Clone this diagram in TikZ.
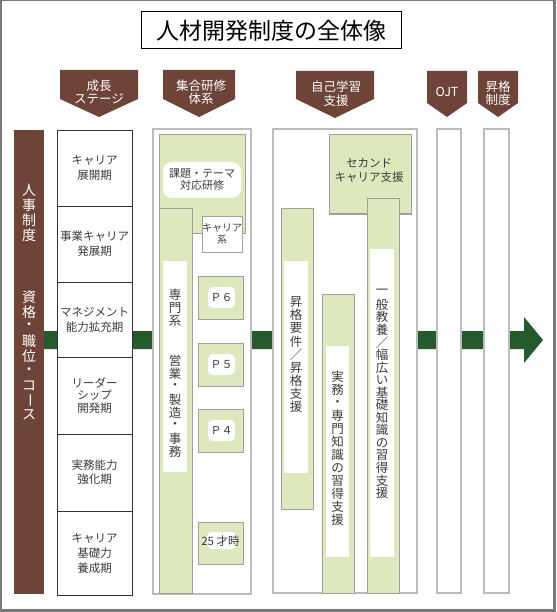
\documentclass[tikz,border=0pt]{standalone}
\usepackage{fontspec}
\setmainfont{Noto Sans CJK JP}
\usepackage{graphicx}
\definecolor{brn}{RGB}{110,68,56}
\definecolor{dgreen}{RGB}{37,90,45}
\definecolor{lgreen}{RGB}{221,233,189}
\definecolor{colgray}{RGB}{188,188,188}
\definecolor{boxgray}{RGB}{160,160,160}
\definecolor{txt}{RGB}{60,60,60}
\definecolor{framegray}{RGB}{120,120,120}
\newcommand\fsz[2]{\fontsize{#1}{#2}\selectfont}
\newdimen\vtp
\let\vtend\relax
\newcommand\vtgap{}
\newcommand\vtbar{\rotatebox[origin=c]{-90}{ー}}
\newcommand\vtxt[2]{\vbox{\offinterlineskip\vtp=#1\relax\vtloop#2\vtend}}
\def\vtloop#1{\ifx#1\vtend\else\vbox to\vtp{\vss\hbox to 1.2em{\hss#1\hss}\vss}\expandafter\vtloop\fi}
\begin{document}
\begin{tikzpicture}[x=1pt,y=-1pt,
 box/.style={anchor=north west, inner sep=0pt, outer sep=0pt},
 stagebox/.style={box, draw=black!80, line width=0.8pt, fill=white, minimum width=75pt, align=center, text=txt, font=\fsz{11.5}{15}},
 column/.style={box, draw=colgray, line width=1.3pt, fill=white},
 gbox/.style={box, draw=boxgray, line width=1pt, fill=lgreen},
 wlabel/.style={box, fill=white},
 headtext/.style={text=white, align=center, inner sep=0pt, font=\fsz{12.5}{13.5}},
 vlab/.style={text=txt, inner sep=0pt, font=\fsz{12.5}{13}},
 plab/.style={wlabel, rounded corners=5pt, minimum width=27pt, minimum height=21pt, text=txt, font=\fsz{11}{11}},
 bartext/.style={text=white, inner sep=0pt, font=\fsz{14}{14}},
]
\useasboundingbox (0,0) rectangle (556,612);
\fill[white] (0,0) rectangle (556,612);
\draw[framegray, line width=1.5pt] (0.75,0.75) rectangle (554,610);
\fill[framegray] (553,0) rectangle (556,612);
\fill[framegray] (0,609) rectangle (556,612);

% title
\node[box, draw=black, line width=1pt, fill=white, minimum width=260pt, minimum height=37pt, font=\fsz{23}{23}] (title) at (141,12) {人材開発制度の全体像};

% header pentagons
\fill[brn] (60,70) -- (138,70) -- (138,99) -- (99,117) -- (60,99) -- cycle;
\node[headtext] (h1) at (99,92) {成長\\ステージ};
\fill[brn] (163,70) -- (235,70) -- (235,99) -- (199,117) -- (163,99) -- cycle;
\node[headtext] (h2) at (201,92) {集合研修\\体系};
\fill[brn] (296,71) -- (374,71) -- (374,99) -- (335,118) -- (296,99) -- cycle;
\node[headtext] (h3) at (336,93.5) {自己学習\\支援};
\fill[brn] (427,71) -- (467,71) -- (467,103) -- (447,117) -- (427,103) -- cycle;
\node[headtext] (h4) at (447,92) {OJT};
\fill[brn] (478,71) -- (518,71) -- (518,103) -- (498,117) -- (478,103) -- cycle;
\node[headtext] (h5) at (498,93.5) {昇格\\制度};

% green arrow band
\fill[dgreen] (44,331) -- (524,331) -- (524,317) -- (543,340) -- (524,363) -- (524,349) -- (44,349) -- cycle;

% brown bar
\node[box, fill=brn, minimum width=30pt, minimum height=464pt] (bar) at (14,130) {};
\node[bartext] (bart1) at (29,212.5) {\vtxt{15pt}{人事制度}};
\node[bartext] (bart2) at (29,356) {\vtxt{14.75pt}{資格・職位・コ\vtbar ス}};

% stages
\node[stagebox, minimum height=76pt] (s1) at (57,130) {キャリア\\展開期};
\node[stagebox, minimum height=76pt] (s2) at (57,206) {事業キャリア\\発展期};
\node[stagebox, minimum height=75pt] (s3) at (57,282) {マネジメント\\能力拡充期};
\node[stagebox, minimum height=77pt, font=\fsz{11.5}{12.5}] (s4) at (57,357) {リーダー\\シップ\\開発期};
\node[stagebox, minimum height=77pt, font=\fsz{11.5}{14}] (s5) at (57,434) {実務能力\\強化期};
\node[stagebox, minimum height=84pt] (s6) at (57,511) {キャリア\\基礎力\\養成期};

% group training column
\node[column, minimum width=98pt, minimum height=465pt] (c1) at (153,129) {};
\node[gbox, minimum width=86pt, minimum height=98pt] (tb) at (159,135) {};
\node[wlabel, rounded corners=9pt, minimum width=78pt, minimum height=36pt, align=center, text=txt, font=\fsz{11}{12}] (kadai) at (163,162) {課題・テーマ\\対応研修};
\node[gbox, minimum width=33pt, minimum height=384pt] (st1) at (159,209) {};
\node[wlabel, minimum width=24pt, minimum height=211pt] (st1l) at (163,261) {};
\node[vlab] (st1t) at (175,373.5) {\vtxt{13.1pt}{専門系\vtgap\vtgap 営業・製造・事務}};
\node[box, draw=boxgray, line width=1pt, fill=white, minimum width=37pt, minimum height=36pt, align=center, text=txt, font=\fsz{10}{12}] (cs) at (202,216) {キャリア\\系};
\node[gbox, minimum width=45pt, minimum height=43pt] (p6) at (198,276) {};
\node[plab] (p6l) at (208,287) {Ｐ６};
\node[gbox, minimum width=45pt, minimum height=43pt] (p5) at (198,343) {};
\node[plab] (p5l) at (208,354) {Ｐ５};
\node[gbox, minimum width=45pt, minimum height=43pt] (p4) at (198,409) {};
\node[plab] (p4l) at (208,420) {Ｐ４};
\node[gbox, minimum width=45pt, minimum height=42pt] (p25) at (198,522) {};
\node[wlabel, rounded corners=5pt, minimum width=30pt, minimum height=17pt] (p25l) at (207,532) {};
\node[text=txt, inner sep=0pt, font=\fsz{11.5}{12}] (p25t) at (220.5,541) {25 才時};

% self-study column
\node[column, minimum width=144pt, minimum height=464pt] (c2) at (273,129) {};
\node[gbox, minimum width=82pt, minimum height=79pt] (sec) at (329,135) {};
\node[text=txt, align=center, inner sep=0pt, font=\fsz{11.5}{14}] (sect) at (369,170) {セカンド\\キャリア支援};
\node[gbox, minimum width=32pt, minimum height=300pt] (sa) at (281,209) {};
\node[wlabel, minimum width=24pt, minimum height=212pt] (sal) at (284,261) {};
\node[vlab] (sat) at (296,354.5) {\vtxt{13.1pt}{昇格要件／昇格支援}};
\node[gbox, minimum width=32pt, minimum height=299pt] (sb) at (322,294) {};
\node[wlabel, minimum width=23pt, minimum height=211pt] (sbl) at (326,346) {};
\node[vlab] (sbt) at (337.5,448.5) {\vtxt{13pt}{実務・専門知識の習得支援}};
\node[gbox, minimum width=32pt, minimum height=394pt] (sc) at (367,199) {};
\node[wlabel, minimum width=24pt, minimum height=308pt] (scl) at (370,249) {};
\node[vlab] (sct) at (382,392.5) {\vtxt{12.56pt}{一般教養／幅広い基礎知識の習得支援}};

% OJT and promotion columns
\node[column, minimum width=24pt, minimum height=464pt] (c3) at (437,129) {};
\node[column, minimum width=25pt, minimum height=464pt] (c4) at (484,129) {};
\end{tikzpicture}
\end{document}
